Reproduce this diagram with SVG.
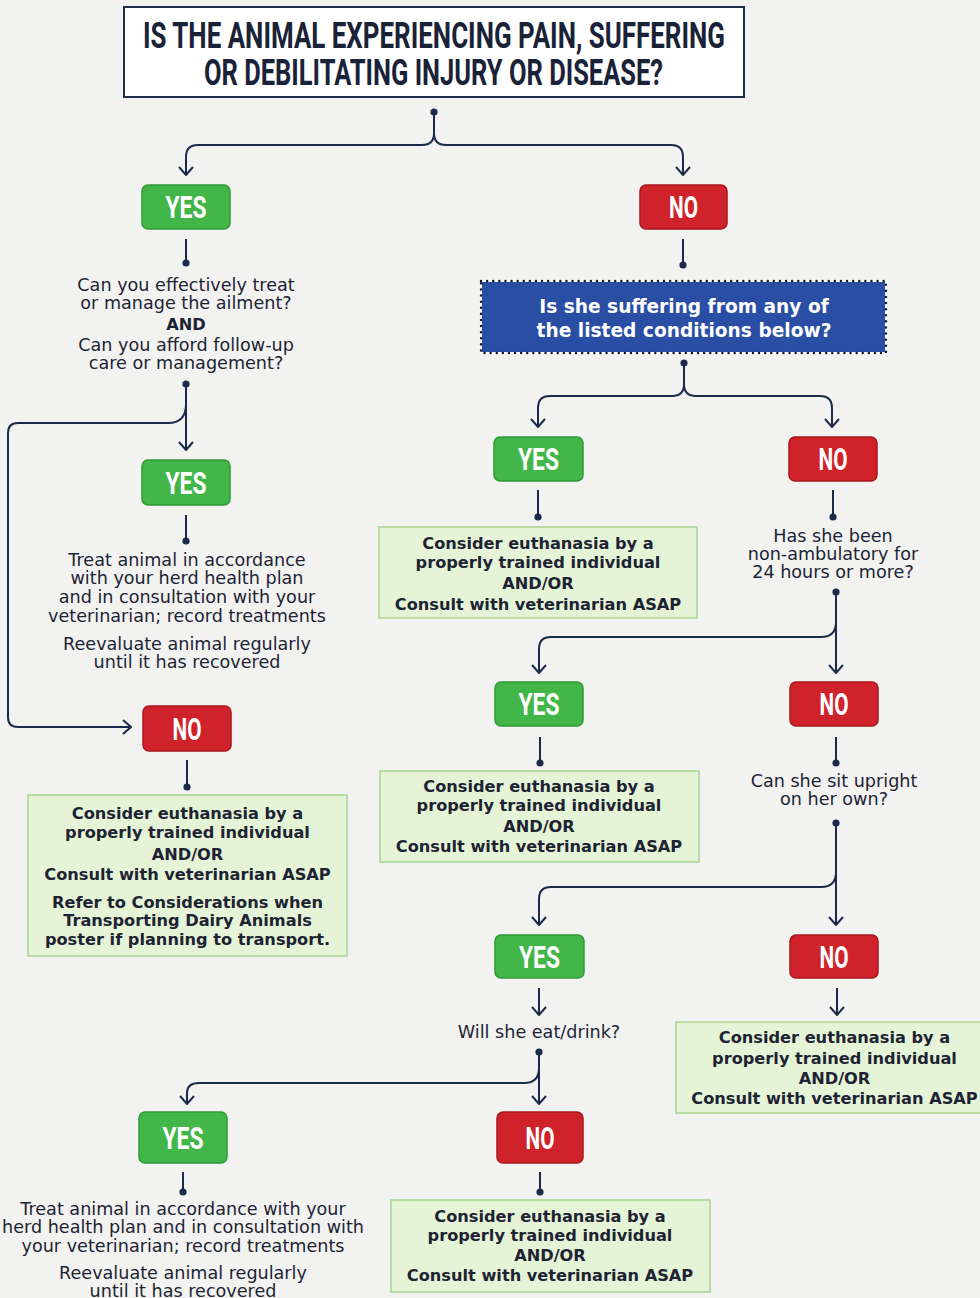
<svg xmlns="http://www.w3.org/2000/svg" width="980" height="1298" viewBox="0 0 980 1298">
<defs>
<style>
.bg{fill:#f2f3f1}
.title{fill:#fff;stroke:#1e2b4d;stroke-width:2}
.tt{font-family:"Roboto","Liberation Sans",sans-serif;font-weight:700;font-size:36px;fill:#1a2238}
.yes{fill:#43b649;stroke:#2f9a36;stroke-width:1.5}
.no{fill:#d0222a;stroke:#a9171d;stroke-width:1.5}
.lbl{font-family:"Roboto","Liberation Sans",sans-serif;font-weight:700;font-size:31px;fill:#fff;text-anchor:middle}
.gbox{fill:#e5f4d6;stroke:#a6d38f;stroke-width:1.5}
.t{font-family:"DejaVu Sans","Open Sans",sans-serif;font-size:17.6px;fill:#1d2333;text-anchor:middle}
.b{font-family:"DejaVu Sans","Open Sans",sans-serif;font-size:16.2px;font-weight:700;fill:#1d2333;text-anchor:middle}
.w{font-family:"DejaVu Sans","Open Sans",sans-serif;font-size:18.6px;font-weight:700;fill:#fff;text-anchor:middle}
.c{fill:none;stroke:#1b2a4a;stroke-width:2}
</style>
<marker id="arr" viewBox="0 0 10 16" refX="9" refY="8" markerWidth="10" markerHeight="16" markerUnits="userSpaceOnUse" orient="auto"><path d="M1,1 L9,8 L1,15" fill="none" stroke="#1b2a4a" stroke-width="2"/></marker>
<marker id="dot" viewBox="-4 -4 8 8" refX="0" refY="0" markerWidth="8" markerHeight="8" markerUnits="userSpaceOnUse"><circle r="3.6" fill="#1b2a4a"/></marker>
</defs>
<rect class="bg" x="0" y="0" width="980" height="1298"/>

<g id="connectors">
<path class="c" d="M434,112 V133 Q434,145 422,145 H198 Q186,145 186,157 V175" marker-start="url(#dot)" marker-end="url(#arr)"/>
<path class="c" d="M434,133 Q434,145 446,145 H671 Q683,145 683,157 V175" marker-end="url(#arr)"/>
<path class="c" d="M186,239 V263" marker-end="url(#dot)"/>
<path class="c" d="M683,239 V265" marker-end="url(#dot)"/>
<path class="c" d="M186,384 V450" marker-start="url(#dot)" marker-end="url(#arr)"/>
<path class="c" d="M186,404 Q186,423 168,423 H18 Q8,423 8,433 V717 Q8,727 18,727 H131" marker-end="url(#arr)"/>
<path class="c" d="M186,515 V541" marker-end="url(#dot)"/>
<path class="c" d="M187,760 V787" marker-end="url(#dot)"/>
<path class="c" d="M684,363 V384 Q684,396 672,396 H550 Q538,396 538,408 V427" marker-start="url(#dot)" marker-end="url(#arr)"/>
<path class="c" d="M684,384 Q684,396 696,396 H820 Q832,396 832,408 V427" marker-end="url(#arr)"/>
<path class="c" d="M538,490 V517" marker-end="url(#dot)"/>
<path class="c" d="M833,490 V517" marker-end="url(#dot)"/>
<path class="c" d="M836,592 V673" marker-start="url(#dot)" marker-end="url(#arr)"/>
<path class="c" d="M836,622 Q836,637 821,637 H551 Q539,637 539,649 V673" marker-end="url(#arr)"/>
<path class="c" d="M540,737 V763" marker-end="url(#dot)"/>
<path class="c" d="M836,737 V763" marker-end="url(#dot)"/>
<path class="c" d="M836,823 V925" marker-start="url(#dot)" marker-end="url(#arr)"/>
<path class="c" d="M836,872 Q836,887 821,887 H551 Q539,887 539,899 V925" marker-end="url(#arr)"/>
<path class="c" d="M539,988 V1015" marker-end="url(#arr)"/>
<path class="c" d="M837,988 V1015" marker-end="url(#arr)"/>
<path class="c" d="M539,1052 V1104" marker-start="url(#dot)" marker-end="url(#arr)"/>
<path class="c" d="M539,1068 Q539,1083 524,1083 H199 Q187,1083 187,1093 V1104" marker-end="url(#arr)"/>
<path class="c" d="M183,1172 V1192" marker-end="url(#dot)"/>
<path class="c" d="M540,1172 V1192" marker-end="url(#dot)"/>
</g>

<g id="n-title">
<rect class="title" x="124" y="7" width="620" height="90"/>
<text class="tt" x="143" y="48" textLength="582" lengthAdjust="spacingAndGlyphs">IS THE ANIMAL EXPERIENCING  PAIN, SUFFERING</text>
<text class="tt" x="204" y="85" textLength="459" lengthAdjust="spacingAndGlyphs">OR DEBILITATING INJURY OR DISEASE?</text>
</g>

<g id="n-yes1"><rect class="yes" x="142" y="185" width="88" height="44" rx="6"/><text class="lbl" x="186" y="218" textLength="41" lengthAdjust="spacingAndGlyphs">YES</text></g>
<g id="n-no1"><rect class="no" x="640" y="185" width="87" height="44" rx="6"/><text class="lbl" x="683.5" y="218" textLength="29" lengthAdjust="spacingAndGlyphs">NO</text></g>

<g id="n-q1">
<text class="t" x="186" y="290.5">Can you effectively treat</text>
<text class="t" x="186" y="309">or manage the ailment?</text>
<text class="b" x="186" y="329.5">AND</text>
<text class="t" x="186" y="350.5">Can you afford follow-up</text>
<text class="t" x="186" y="369">care or management?</text>
</g>

<g id="n-yes2"><rect class="yes" x="142" y="460" width="88" height="45" rx="6"/><text class="lbl" x="186" y="493.5" textLength="41" lengthAdjust="spacingAndGlyphs">YES</text></g>

<g id="n-treat1">
<text class="t" x="187" y="565.5">Treat animal in accordance</text>
<text class="t" x="187" y="584">with your herd health plan</text>
<text class="t" x="187" y="603">and in consultation with your</text>
<text class="t" x="187" y="621.5">veterinarian; record treatments</text>
<text class="t" x="187" y="650">Reevaluate animal regularly</text>
<text class="t" x="187" y="668">until it has recovered</text>
</g>

<g id="n-no2"><rect class="no" x="143" y="706" width="88" height="45" rx="6"/><text class="lbl" x="187" y="739.5" textLength="29" lengthAdjust="spacingAndGlyphs">NO</text></g>

<g id="n-euth1">
<rect class="gbox" x="28" y="795" width="319" height="161"/>
<text class="b" x="187.5" y="819">Consider euthanasia by a</text>
<text class="b" x="187.5" y="838">properly trained individual</text>
<text class="b" x="187.5" y="860">AND/OR</text>
<text class="b" x="187.5" y="880">Consult with veterinarian ASAP</text>
<text class="b" x="187.5" y="907.5">Refer to Considerations when</text>
<text class="b" x="187.5" y="926">Transporting Dairy Animals</text>
<text class="b" x="187.5" y="945">poster if planning to transport.</text>
</g>

<g id="n-q2">
<rect x="481" y="281" width="405" height="72" fill="#2a4ea3" stroke="#ffffff" stroke-width="2"/>
<rect x="481" y="281" width="405" height="72" fill="none" stroke="#111a2e" stroke-width="2.4" stroke-dasharray="0.1 6" stroke-linecap="round"/>
<text class="w" x="684" y="313">Is she suffering from any of</text>
<text class="w" x="684" y="336.5">the listed conditions below?</text>
</g>

<g id="n-yes3"><rect class="yes" x="494" y="437" width="89" height="44" rx="6"/><text class="lbl" x="538.5" y="470" textLength="41" lengthAdjust="spacingAndGlyphs">YES</text></g>
<g id="n-no3"><rect class="no" x="789" y="437" width="88" height="44" rx="6"/><text class="lbl" x="833" y="470" textLength="29" lengthAdjust="spacingAndGlyphs">NO</text></g>

<g id="n-euth2">
<rect class="gbox" x="379" y="527" width="318" height="91"/>
<text class="b" x="538" y="549">Consider euthanasia by a</text>
<text class="b" x="538" y="568">properly trained individual</text>
<text class="b" x="538" y="589">AND/OR</text>
<text class="b" x="538" y="610">Consult with veterinarian ASAP</text>
</g>

<g id="n-q3">
<text class="t" x="833" y="541.5">Has she been</text>
<text class="t" x="833" y="560">non-ambulatory for</text>
<text class="t" x="833" y="578">24 hours or more?</text>
</g>

<g id="n-yes4"><rect class="yes" x="495" y="682" width="88" height="44" rx="6"/><text class="lbl" x="539" y="715" textLength="41" lengthAdjust="spacingAndGlyphs">YES</text></g>
<g id="n-no4"><rect class="no" x="790" y="682" width="88" height="44" rx="6"/><text class="lbl" x="834" y="715" textLength="29" lengthAdjust="spacingAndGlyphs">NO</text></g>

<g id="n-euth3">
<rect class="gbox" x="380" y="771" width="319" height="91"/>
<text class="b" x="539" y="792">Consider euthanasia by a</text>
<text class="b" x="539" y="811">properly trained individual</text>
<text class="b" x="539" y="832">AND/OR</text>
<text class="b" x="539" y="852">Consult with veterinarian ASAP</text>
</g>

<g id="n-q4">
<text class="t" x="834" y="787">Can she sit upright</text>
<text class="t" x="834" y="805">on her own?</text>
</g>

<g id="n-yes5"><rect class="yes" x="495" y="935" width="89" height="43" rx="6"/><text class="lbl" x="539.5" y="967.5" textLength="41" lengthAdjust="spacingAndGlyphs">YES</text></g>
<g id="n-no5"><rect class="no" x="790" y="935" width="88" height="43" rx="6"/><text class="lbl" x="834" y="967.5" textLength="29" lengthAdjust="spacingAndGlyphs">NO</text></g>

<g id="n-q5"><text class="t" x="539" y="1038">Will she eat/drink?</text></g>

<g id="n-euth4">
<rect class="gbox" x="676" y="1022" width="310" height="91"/>
<text class="b" x="834.5" y="1043">Consider euthanasia by a</text>
<text class="b" x="834.5" y="1064">properly trained individual</text>
<text class="b" x="834.5" y="1084">AND/OR</text>
<text class="b" x="834.5" y="1104">Consult with veterinarian ASAP</text>
</g>

<g id="n-yes6"><rect class="yes" x="139" y="1112" width="88" height="51" rx="6"/><text class="lbl" x="183" y="1149" textLength="41" lengthAdjust="spacingAndGlyphs">YES</text></g>
<g id="n-no6"><rect class="no" x="497" y="1112" width="86" height="51" rx="6"/><text class="lbl" x="540" y="1149" textLength="29" lengthAdjust="spacingAndGlyphs">NO</text></g>

<g id="n-treat2">
<text class="t" x="183" y="1215">Treat animal in accordance with your</text>
<text class="t" x="183" y="1233">herd health plan and in consultation with</text>
<text class="t" x="183" y="1252">your veterinarian; record treatments</text>
<text class="t" x="183" y="1279">Reevaluate animal regularly</text>
<text class="t" x="183" y="1297">until it has recovered</text>
</g>

<g id="n-euth5">
<rect class="gbox" x="391" y="1200" width="319" height="92"/>
<text class="b" x="550" y="1222">Consider euthanasia by a</text>
<text class="b" x="550" y="1241">properly trained individual</text>
<text class="b" x="550" y="1261">AND/OR</text>
<text class="b" x="550" y="1281">Consult with veterinarian ASAP</text>
</g>
</svg>
